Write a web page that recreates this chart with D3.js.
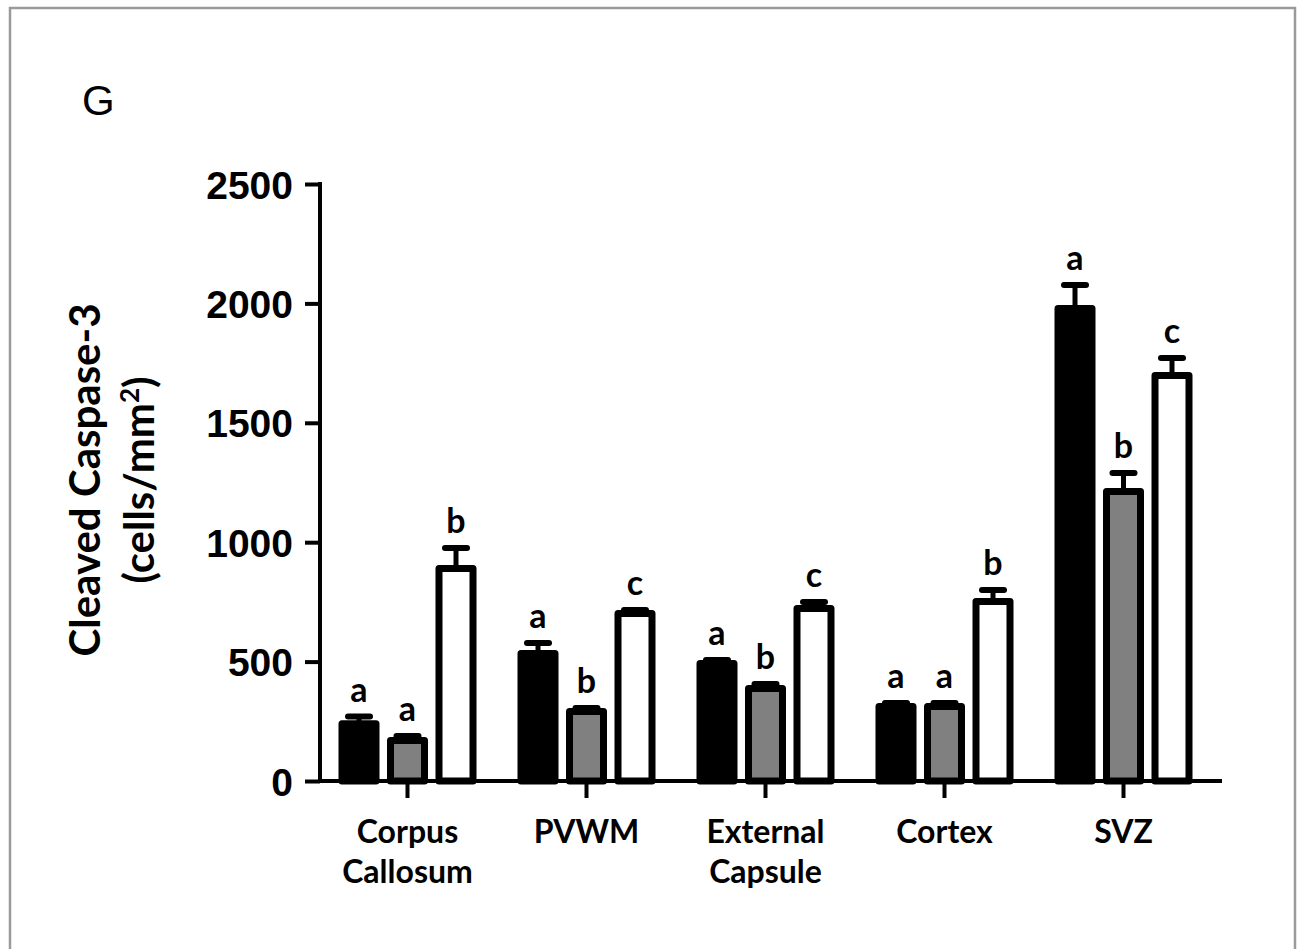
<!DOCTYPE html>
<html>
<head>
<meta charset="utf-8">
<script src="https://cdn.jsdelivr.net/npm/d3@7"></script>
<style>
  body { margin: 0; background: #fff; }
  svg { display: block; }
</style>
</head>
<body>
<div id="chart"></div>
<script>
// data (cells/mm2)
var categories = ["Corpus Callosum", "PVWM", "External Capsule", "Cortex", "SVZ"];
var categoryLines = [["Corpus", "Callosum"], ["PVWM"], ["External", "Capsule"], ["Cortex"], ["SVZ"]];

var blackValues = [240, 534, 492, 312, 1979];
var blackErrors = [30, 44, 15, 15, 98];
var blackLetters = ["a", "a", "a", "a", "a"];

var grayValues = [170, 291, 387, 312, 1212];
var grayErrors = [18, 15, 19, 15, 78];
var grayLetters = ["a", "b", "b", "a", "b"];

var whiteValues = [890, 701, 722, 752, 1698];
var whiteErrors = [86, 15, 28, 48, 73];
var whiteLetters = ["b", "c", "c", "b", "c"];

var yTicks = [0, 500, 1000, 1500, 2000, 2500];

var width = 1299, height = 949;

var svg = d3.select("#chart")
  .append("svg")
  .attr("width", width)
  .attr("height", height);

// frame
svg.append("rect")
  .attr("x", 10).attr("y", 8)
  .attr("width", 1285).attr("height", 960)
  .attr("fill", "none")
  .attr("stroke", "#9a9a9a")
  .attr("stroke-width", 2.5);

// panel letter
svg.append("text")
  .attr("x", 82).attr("y", 115)
  .style("font-family", "'Liberation Sans', Arial, sans-serif")
  .style("font-size", "42px")
  .text("G");

var y = d3.scaleLinear().domain([0, 2500]).range([781, 184]);
var x = d3.scaleBand().domain(categories).range([318, 1213]).padding(0);

var series = [
  {values: blackValues, errors: blackErrors, letters: blackLetters, fill: "#000", offset: -48.5},
  {values: grayValues, errors: grayErrors, letters: grayLetters, fill: "#808080", offset: 0},
  {values: whiteValues, errors: whiteErrors, letters: whiteLetters, fill: "#fff", offset: 48.5}
];

var barW = 41, sw = 7;

series.forEach(function(s) {
  var g = svg.append("g");
  var rows = categories.map(function(c, i) {
    return {cat: c, v: s.values[i], e: s.errors[i], l: s.letters[i]};
  });
  var cx = function(d) { return x(d.cat) + x.bandwidth() / 2 + s.offset; };

  // error bars (upper only)
  g.selectAll(".err")
    .data(rows)
    .join("line")
      .attr("x1", cx).attr("x2", cx)
      .attr("y1", (d) => y(d.v))
      .attr("y2", (d) => y(d.v + d.e))
      .attr("stroke", "#000")
      .attr("stroke-width", 5);

  g.selectAll(".cap")
    .data(rows)
    .join("line")
      .attr("x1", (d) => cx(d) - 11).attr("x2", (d) => cx(d) + 11)
      .attr("y1", (d) => y(d.v + d.e))
      .attr("y2", (d) => y(d.v + d.e))
      .attr("stroke", "#000")
      .attr("stroke-width", 6)
      .attr("stroke-linecap", "round");

  g.selectAll(".bar")
    .data(rows)
    .join("rect")
      .attr("x", (d) => cx(d) - barW / 2 + sw / 2)
      .attr("y", (d) => y(d.v))
      .attr("width", barW - sw)
      .attr("height", (d) => y(0) - y(d.v))
      .attr("fill", s.fill)
      .attr("stroke", "#000")
      .attr("stroke-width", sw)
      .attr("stroke-linejoin", "round");

  g.selectAll(".letter")
    .data(rows)
    .join("text")
      .attr("x", cx)
      .attr("y", (d) => y(d.v + d.e) - 15)
      .attr("text-anchor", "middle")
      .style("font-family", "Lato, 'Open Sans', sans-serif")
      .style("font-weight", "bold")
      .style("font-size", "34px")
      .text((d) => d.l);
});

// y axis
var yAxis = svg.append("g")
  .attr("transform", "translate(320,0)")
  .call(d3.axisLeft(y).tickValues(yTicks).tickSize(15).tickPadding(12).tickFormat(d3.format("d")));
yAxis.select(".domain").remove();
yAxis.selectAll(".tick line").attr("stroke", "#000").attr("stroke-width", 4);
yAxis.selectAll(".tick text")
  .style("font-family", "'Liberation Sans', Arial, sans-serif")
  .style("font-weight", "bold")
  .style("font-size", "39px")
  .attr("dy", "0.36em")
  .attr("fill", "#000");
svg.append("line")
  .attr("x1", 320).attr("x2", 320)
  .attr("y1", y(2500) - 2).attr("y2", y(0) + 2)
  .attr("stroke", "#000").attr("stroke-width", 4);

// x axis
var xAxis = svg.append("g")
  .attr("transform", "translate(0," + y(0) + ")")
  .call(d3.axisBottom(x).tickSize(17).tickFormat(""));
xAxis.select(".domain").remove();
xAxis.selectAll(".tick line").attr("stroke", "#000").attr("stroke-width", 4);
svg.append("line")
  .attr("x1", 318).attr("x2", 1222)
  .attr("y1", y(0)).attr("y2", y(0))
  .attr("stroke", "#000").attr("stroke-width", 4);

// category labels
var catLabels = svg.append("g").selectAll("text")
  .data(categories)
  .join("text")
    .attr("x", (d) => x(d) + x.bandwidth() / 2)
    .attr("y", 843)
    .attr("text-anchor", "middle")
    .style("font-family", "Lato, 'Open Sans', sans-serif")
    .style("font-weight", "bold")
    .style("font-size", "32px");
catLabels.each(function(d, i) {
  var t = d3.select(this);
  categoryLines[i].forEach(function(line, j) {
    t.append("tspan")
      .attr("x", x(d) + x.bandwidth() / 2)
      .attr("dy", j === 0 ? 0 : 40)
      .text(line);
  });
});

// y title
var yTitle = svg.append("text")
  .attr("transform", "translate(100,480) rotate(-90)")
  .attr("text-anchor", "middle")
  .style("font-family", "Lato, 'Open Sans', sans-serif")
  .style("font-weight", "bold")
  .style("font-size", "42px");
yTitle.append("tspan").attr("x", 0).attr("y", 0).text("Cleaved Caspase-3");
yTitle.append("tspan").attr("x", 0).attr("y", 54).text("(cells/mm");
yTitle.append("tspan").attr("dy", -15).style("font-size", "26px").text("2");
yTitle.append("tspan").attr("dy", 15).text(")");
</script>
</body>
</html>
